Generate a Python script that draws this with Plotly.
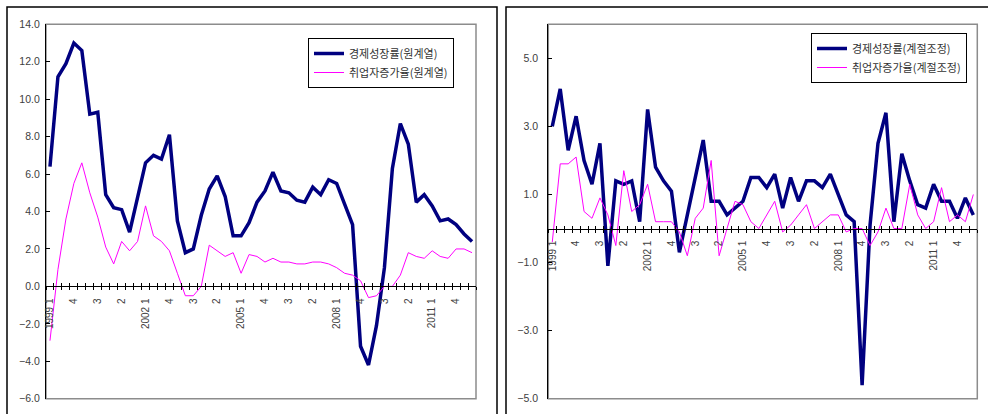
import plotly.graph_objects as go

# Quarterly series, 1999 Q1 .. 2012 Q2 (54 quarters)
periods = [f"{y}Q{q}" for y in range(1999, 2013) for q in range(1, 5)][:54]

# Left panel: year-on-year rates (original series), %
growth_nsa = [6.4, 11.2, 11.9, 13.0, 12.6, 9.2, 9.3, 4.9, 4.2, 4.1,
              2.9, 4.7, 6.6, 7.0, 6.8, 8.1, 3.5, 1.8, 2.0, 3.8,
              5.2, 5.9, 4.8, 2.7, 2.7, 3.4, 4.5, 5.1, 6.1, 5.1,
              5.0, 4.6, 4.5, 5.3, 4.9, 5.7, 5.5, 4.4, 3.3, -3.2,
              -4.2, -2.1, 1.0, 6.3, 8.7, 7.6, 4.5, 4.9, 4.3, 3.5,
              3.6, 3.3, 2.8, 2.4]
emp_nsa = [-2.9, 0.9, 3.6, 5.5, 6.6, 5.0, 3.7, 2.1, 1.2, 2.4,
           1.9, 2.4, 4.3, 2.7, 2.4, 1.9, 0.7, -0.5, -0.5, 0.0,
           2.2, 1.9, 1.6, 1.8, 0.7, 1.7, 1.6, 1.3, 1.5, 1.3,
           1.3, 1.2, 1.2, 1.3, 1.3, 1.2, 1.0, 0.7, 0.6, 0.3,
           -0.6, -0.5, 0.0, 0.0, 0.6, 1.8, 1.6, 1.5, 1.9, 1.6,
           1.5, 2.0, 2.0, 1.8]

# Right panel: quarter-on-quarter rates (seasonally adjusted), %
growth_sa = [3.0, 4.1, 2.3, 3.3, 2.0, 1.3, 2.5, -1.1, 1.4, 1.3,
             1.4, 0.2, 3.5, 1.8, 1.4, 1.1, -0.7, 0.4, 1.6, 2.6,
             0.8, 0.8, 0.4, 0.6, 0.8, 1.5, 1.5, 1.2, 1.6, 0.6,
             1.5, 0.8, 1.4, 1.4, 1.2, 1.6, 1.0, 0.4, 0.2, -4.6,
             0.1, 2.5, 3.4, 0.2, 2.2, 1.4, 0.7, 0.6, 1.3, 0.8,
             0.8, 0.3, 0.9, 0.4]
emp_sa = [-0.4, 1.9, 1.9, 2.1, 0.5, 0.3, 0.9, 0.4, -0.5, 1.7,
          0.5, 0.7, 1.3, 0.2, 0.2, 0.2, -0.1, -0.8, 0.3, 0.6,
          2.0, -0.8, 0.0, 0.8, 0.7, 0.2, 0.0, 0.4, 0.8, -0.1,
          0.1, 0.4, 0.7, 0.0, 0.2, 0.4, 0.4, -0.1, 0.0, 0.0,
          -0.5, -0.1, 0.6, 0.0, 0.0, 1.3, 0.4, 0.0, 0.2, 1.2,
          0.2, 0.4, 0.2, 1.0]

# Category labels, shown on every third quarter
label_idx = list(range(0, 54, 3))
label_text = ["1999 1", "4", "3", "2", "2002 1", "4", "3", "2", "2005 1",
              "4", "3", "2", "2008 1", "4", "3", "2", "2011 1", "4"]

names_left = ["경제성장률(원계열)", "취업자증가율(원계열)"]
names_right = ["경제성장률(계절조정)", "취업자증가율(계절조정)"]

left_range = [-6, 14]
right_range = [-5, 6]

W, H = 988, 414
NAVY = "#000080"
MAGENTA = "#FF00FF"
TICK_FONT = dict(family="Liberation Sans, Arial, sans-serif", size=10.5, color="#404040")

xs = list(range(len(periods)))
bounds = [i - 0.5 for i in range(len(periods) + 1)]
xrange_ = [-0.5, len(periods) - 0.5]


def hdom(x0, x1):
    return [x0 / W, x1 / W]


def vdom(top, bottom):
    return [(H - bottom) / H, (H - top) / H]


left_x = hdom(46, 476)
right_x = hdom(548.3, 977.3)
ydom = vdom(24.3, 398.7)


def zero_pos(rng):
    return ydom[0] + (0 - rng[0]) / (rng[1] - rng[0]) * (ydom[1] - ydom[0])


fig = go.Figure()

# Left panel series
fig.add_trace(go.Scatter(x=xs, y=growth_nsa, name=names_left[0], mode="lines",
                         line=dict(color=NAVY, width=3.5), xaxis="x", yaxis="y",
                         legend="legend"))
fig.add_trace(go.Scatter(x=xs, y=emp_nsa, name=names_left[1], mode="lines",
                         line=dict(color=MAGENTA, width=1), xaxis="x", yaxis="y",
                         legend="legend"))
# Right panel series
fig.add_trace(go.Scatter(x=xs, y=growth_sa, name=names_right[0], mode="lines",
                         line=dict(color=NAVY, width=3.5), xaxis="x2", yaxis="y2",
                         legend="legend2"))
fig.add_trace(go.Scatter(x=xs, y=emp_sa, name=names_right[1], mode="lines",
                         line=dict(color=MAGENTA, width=1), xaxis="x2", yaxis="y2",
                         legend="legend2"))

# Empty traces so the tick-only overlay axes get drawn
for xa, ya in [("x3", "y"), ("x4", "y"), ("x5", "y2"), ("x6", "y2")]:
    fig.add_trace(go.Scatter(x=[None], y=[None], xaxis=xa, yaxis=ya,
                             showlegend=False, hoverinfo="skip"))


def label_axis(dom, rng):
    return dict(domain=dom, range=xrange_, anchor="free", position=zero_pos(rng),
                showline=True, linecolor="black", linewidth=1.2,
                tickmode="array", tickvals=label_idx, ticktext=label_text,
                tickangle=-90, ticks="", tickfont=dict(TICK_FONT, size=10),
                ticklabelstandoff=7, showgrid=False, zeroline=False,
                automargin=False)


def tick_axis(over, rng, side):
    return dict(overlaying=over, range=xrange_, anchor="free", position=zero_pos(rng),
                tickmode="array", tickvals=bounds, ticks=side, ticklen=3,
                tickwidth=1, tickcolor="black", showticklabels=False,
                showline=False, showgrid=False, zeroline=False, automargin=False)


def value_axis(rng, xa, standoff):
    return dict(domain=ydom, range=rng, anchor=xa, tickmode="linear",
                tick0=rng[0], dtick=2, tickformat=".1f", showline=True,
                linecolor="black", linewidth=1.2, ticks="inside", ticklen=4,
                tickcolor="black", tickfont=TICK_FONT, ticklabelstandoff=standoff,
                showgrid=False, zeroline=False, automargin=False)


legend_style = dict(bgcolor="white", bordercolor="black", borderwidth=1,
                    font=dict(family="Noto Sans CJK KR", size=11, color="#333333"),
                    xanchor="left", yanchor="top", tracegroupgap=0, itemwidth=30)

fig.update_layout(
    width=W, height=H,
    margin=dict(l=0, r=0, t=0, b=0, pad=0, autoexpand=False),
    paper_bgcolor="white", plot_bgcolor="white",
    font=dict(family="Noto Sans CJK KR"),
    xaxis=label_axis(left_x, left_range),
    xaxis2=label_axis(right_x, right_range),
    xaxis3=tick_axis("x", left_range, "outside"),
    xaxis4=tick_axis("x", left_range, "inside"),
    xaxis5=tick_axis("x2", right_range, "outside"),
    xaxis6=tick_axis("x2", right_range, "inside"),
    yaxis=value_axis(left_range, "x", 3),
    yaxis2=value_axis(right_range, "x2", 7),
    legend=dict(legend_style, x=308 / W, y=(H - 38) / H),
    legend2=dict(legend_style, x=811 / W, y=(H - 33) / H),
    showlegend=True,
)

# Plot-area borders (gray) and outer panel frames (black)
for xr, yr in [("x domain", "y domain"), ("x2 domain", "y2 domain")]:
    fig.add_shape(type="rect", xref=xr, yref=yr, x0=0, x1=1, y0=0, y1=1,
                  line=dict(color="#8c8c8c", width=1.5), layer="below")
fig.add_shape(type="rect", xref="paper", yref="paper", x0=7 / W, x1=497 / W,
              y0=-0.1, y1=(H - 7) / H, line=dict(color="black", width=1.5))
fig.add_shape(type="rect", xref="paper", yref="paper", x0=506 / W, x1=1.05,
              y0=-0.1, y1=(H - 7) / H, line=dict(color="black", width=1.5))

fig.write_html("out.html")
